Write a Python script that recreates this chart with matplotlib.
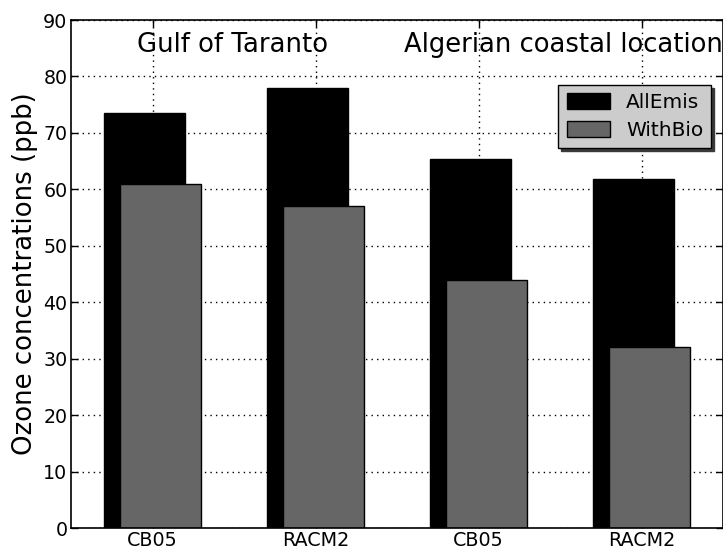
import matplotlib
matplotlib.use("Agg")
import matplotlib.pyplot as plt
import numpy as np

categories = ["CB05", "RACM2", "CB05", "RACM2"]
allemis = [73.5, 77.9, 65.3, 61.8]
withbio = [61.0, 57.0, 44.0, 32.0]
series_names = ["AllEmis", "WithBio"]
region_titles = ["Gulf of Taranto", "Algerian coastal location"]

W, H = 723, 550
fig = plt.figure(figsize=(W / 100, H / 100), dpi=100)
ax = fig.add_axes([71 / W, (H - 528) / H, (723 - 71) / W, (528 - 20) / H])

ind = np.arange(len(categories))
width = 0.5
ax.bar(ind, allemis, width, align="edge", color="black", edgecolor="black",
       linewidth=1, label=series_names[0], zorder=2)
ax.bar(ind + 0.1, withbio, width, align="edge", color="#666666", edgecolor="black",
       linewidth=1, label=series_names[1], zorder=3)

ax.set_xlim(-0.2, 3.8)
ax.set_ylim(0, 90)
ax.set_xticks(ind + 0.3)
ax.set_xticklabels(categories, fontsize=13.8)
ax.set_yticks(np.arange(0, 91, 10))
ax.tick_params(axis="y", labelsize=13.7, pad=2.5)
ax.tick_params(direction="in", top=True, right=True, length=5, width=1)
ax.tick_params(axis="x", pad=2)
ax.set_axisbelow(False)
ax.grid(True, linestyle=(0, (1, 3)), color="black", linewidth=1, zorder=4)
for s in ax.spines.values():
    s.set_linewidth(1.2)
    s.set_zorder(6)

ax.set_ylabel("Ozone concentrations (ppb)", fontsize=18.7, labelpad=4)

ax.text(0.205, 84.3, region_titles[0], fontsize=18.6, ha="left", va="baseline", zorder=7)
ax.text(1.846, 84.3, region_titles[1], fontsize=18.6, ha="left", va="baseline", zorder=7)

leg = ax.legend(loc="upper right", bbox_to_anchor=(0.982, 0.872), borderaxespad=0,
                fontsize=14.5, shadow={"color": "#3a3a3a", "alpha": 1},
                fancybox=False, framealpha=1,
                facecolor="#cccccc", edgecolor="black", handlelength=2.15,
                handleheight=0.8, handletextpad=0.8, borderpad=0.4, labelspacing=0.45)
leg.get_frame().set_linewidth(1)
leg.set_zorder(8)

fig.savefig("out.png", dpi=100)
